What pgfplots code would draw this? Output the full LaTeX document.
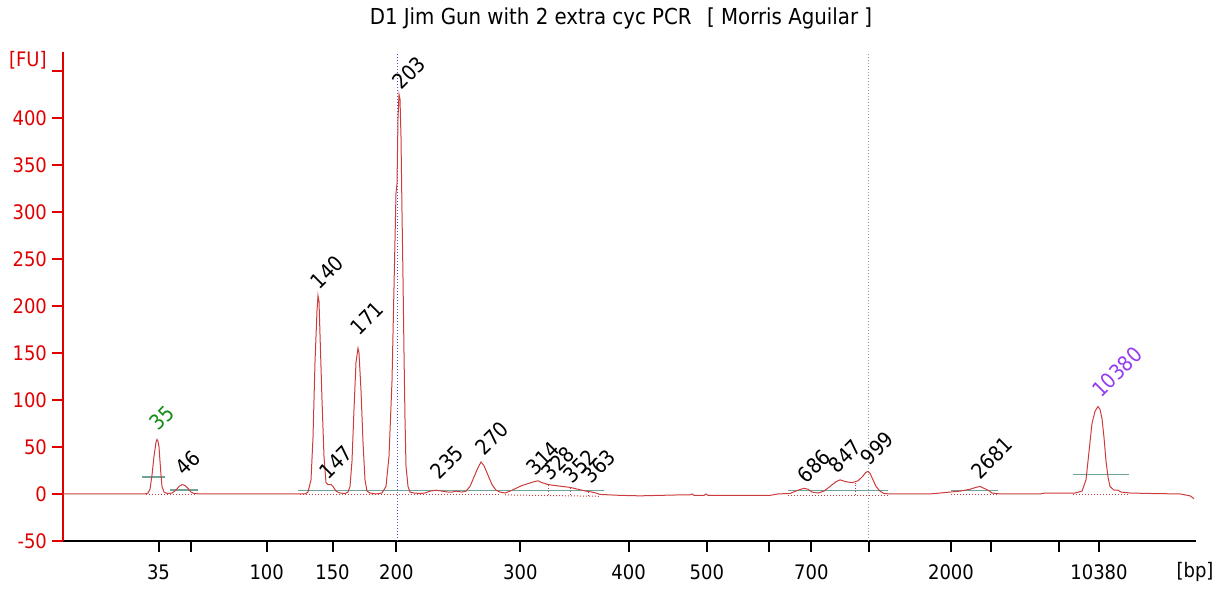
\documentclass[border=0pt]{standalone}
\usepackage{fontspec}
\setmainfont{DejaVu Sans Condensed}
\usepackage{pgfplots}
\pgfplotsset{compat=1.18}
\definecolor{axred}{RGB}{225,0,0}
\definecolor{trace}{RGB}{205,60,60}
\definecolor{pkmark}{RGB}{110,165,155}
\definecolor{grn}{RGB}{20,140,20}
\definecolor{vio}{RGB}{150,60,240}
\definecolor{bluedot}{RGB}{80,80,220}
\definecolor{graydot}{RGB}{150,150,150}
\newcommand{\lf}{\fontsize{10pt}{12pt}\selectfont}
\newcommand{\pf}{\fontsize{10.5pt}{12pt}\selectfont}

\begin{document}
\begin{tikzpicture}
\begin{axis}[
  scale only axis, width=566.5pt, height=244.4pt,
  xmin=63, xmax=1196, ymin=-50, ymax=470,
  axis x line=bottom, axis y line=left, axis line style={-},
  x axis line style={black, line width=1pt},
  y axis line style={axred, line width=1pt},
  tick align=outside, major tick length=5.5pt,
  xtick={158.5,190.5,266.7,332.5,396.4,520.4,628.6,706.9,769,811.4,868.8,951,991,1059,1099},
  xticklabels={35,,100,150,200,300,400,500,,700,,2000,,,10380},
  ytick={-50,0,...,450},
  yticklabels={-50,0,50,100,150,200,250,300,350,400,},
  x tick style={black, line width=1pt},
  y tick style={axred, line width=1pt},
  yticklabel style={text=axred, xshift=1pt},
  xticklabel style={yshift=-3pt},
  tick label style={font=\lf},
  /pgf/number format/assume math mode=true,
  clip=false,
]
% vertical reference lines
\addplot[bluedot, densely dotted, line width=0.5pt] coordinates {(397,-50) (397,470)};
\addplot[graydot, densely dotted, line width=0.5pt] coordinates {(868,-50) (868,470)};

% peak boundary baselines
\addplot[trace, densely dotted, line width=0.5pt] coordinates {(146,-1) (196,-1)};
\addplot[trace, densely dotted, line width=0.5pt] coordinates {(300,-1) (500,-1)};
\addplot[trace, densely dotted, line width=0.5pt] coordinates {(505,-1) (600,-2.5)};
\addplot[trace, densely dotted, line width=0.5pt] coordinates {(548,-1) (548,10)};
\addplot[trace, densely dotted, line width=0.5pt] coordinates {(570,-1.5) (570,8)};
\addplot[trace, densely dotted, line width=0.5pt] coordinates {(588,-2) (588,4)};
\addplot[trace, densely dotted, line width=0.5pt] coordinates {(788,-1.5) (888,-1.5)};
\addplot[trace, densely dotted, line width=0.5pt] coordinates {(855,-1.5) (855,12)};
\addplot[trace, densely dotted, line width=0.5pt] coordinates {(951,-1) (998,-1)};
\addplot[trace, densely dotted, line width=0.5pt] coordinates {(1073,-1) (1129,-1)};

% peak markers
\addplot[pkmark, line width=0.8pt] coordinates {(142,18) (165,18)};
\addplot[pkmark, line width=0.8pt] coordinates {(170,4) (198,4)};
\addplot[pkmark, line width=0.8pt] coordinates {(298,3.5) (604,3.5)};
\addplot[pkmark, line width=0.8pt] coordinates {(788,3.5) (888,3.5)};
\addplot[pkmark, line width=0.8pt] coordinates {(951,3.5) (998,3.5)};
\addplot[pkmark, line width=0.8pt] coordinates {(1073,20.5) (1129,20.5)};

% electropherogram trace
\addplot[trace, line width=0.5pt] coordinates {
(63,0) (145,0) (148,1) (150,5) (152,20) (154,40) (156,55) (157,58) (158,56)
(159,50) (160,35) (161,20) (162,8) (164,2) (166,1) (168,0.5) (172,1) (176,4)
(179,8) (182,10) (185,9) (188,6) (191,2) (194,0.5) (200,0) (305,0) (308,2)
(311,15) (313,60) (315,140) (317,195) (318,211) (319,205) (320,170) (322,100)
(324,40) (326,12) (328,10) (331,10) (333,8) (336,3) (340,1) (345,0.5) (348,2)
(350,8) (352,35) (354,90) (356,140) (358,155) (359,150) (361,110) (363,55)
(365,15) (367,3) (370,1) (376,0) (382,1) (386,8) (389,40) (392,120) (394,220)
(396,320) (397,330) (398,400) (399,425) (400,420) (401,380) (402,300) (403,230)
(404,150) (405,80) (406,30) (408,8) (410,2) (414,1) (420,0.5) (425,1) (430,3)
(436,4) (442,3) (448,2) (452,2) (456,3) (462,2) (466,3) (470,8) (474,18) (478,28)
(481,34) (484,30) (488,20) (492,10) (496,4) (500,2) (505,1) (510,3) (516,6)
(522,9) (528,11) (534,13) (538,14) (542,12) (548,10) (555,9) (562,8) (570,7)
(578,5) (586,3) (592,2) (596,1) (600,-0.5) (610,-1) (620,-1.5) (640,-2)
(660,-1.5) (680,-1) (690,-1) (692,0) (694,-1.5) (704,-1.5) (706,0) (708,-1.5)
(770,-1.5) (778,0) (790,0.5) (798,4) (804,6) (808,5) (812,2) (818,1) (824,3)
(830,8) (836,13) (840,15) (846,13) (852,12) (858,14) (862,18) (866,23) (868,24)
(870,22) (873,15) (876,8) (880,3) (884,0.5) (890,0) (930,0) (940,1) (950,2)
(960,3) (970,5) (976,7) (980,8) (984,6) (988,4) (992,1) (1000,0) (1040,0)
(1045,1) (1050,1) (1075,1) (1082,3) (1086,15) (1089,45) (1092,75) (1095,88)
(1098,93) (1100,90) (1102,80) (1104,60) (1106,35) (1108,18) (1110,8) (1114,4)
(1118,4) (1121,2) (1130,1) (1150,0.5) (1180,0) (1190,-2) (1194,-5)
};

% peak labels
\node[rotate=45, font=\pf, text=grn] at (axis cs:162,80.9) {35};
\node[rotate=45, font=\pf] at (axis cs:188,33) {46};
\node[rotate=45, font=\pf] at (axis cs:327,236) {140};
\node[rotate=45, font=\pf] at (axis cs:336,34) {147};
\node[rotate=45, font=\pf] at (axis cs:367,187) {171};
\node[rotate=45, font=\pf] at (axis cs:409,448) {203};
\node[rotate=45, font=\pf] at (axis cs:447,34) {235};
\node[rotate=45, font=\pf] at (axis cs:492,59.6) {270};
\node[rotate=45, font=\pf] at (axis cs:543,38.3) {314};
\node[rotate=45, font=\pf] at (axis cs:558,33) {328};
\node[rotate=45, font=\pf] at (axis cs:580,29.8) {352};
\node[rotate=45, font=\pf] at (axis cs:599,29.8) {363};
\node[rotate=45, font=\pf] at (axis cs:814,29.8) {686};
\node[rotate=45, font=\pf] at (axis cs:845,40.4) {847};
\node[rotate=45, font=\pf] at (axis cs:877,49) {999};
\node[rotate=45, font=\pf] at (axis cs:992,38.3) {2681};
\node[rotate=45, font=\pf, text=vio] at (axis cs:1117,129.8) {10380};

% axis captions and title
\node[font=\lf, text=axred, anchor=east, inner sep=0pt] at (axis cs:47,461.7) {[FU]};
\node[font=\lf, inner sep=0pt] at (axis cs:1195,-83) {[bp]};
\node[font=\fontsize{11pt}{13pt}\selectfont] at (axis cs:621,506) {D1 Jim Gun with 2 extra cyc PCR\hspace{0.7em}[ Morris Aguilar ]};

\path (axis cs:0,525.5) rectangle (axis cs:1216,-102.1);
\end{axis}
\end{tikzpicture}
\end{document}
